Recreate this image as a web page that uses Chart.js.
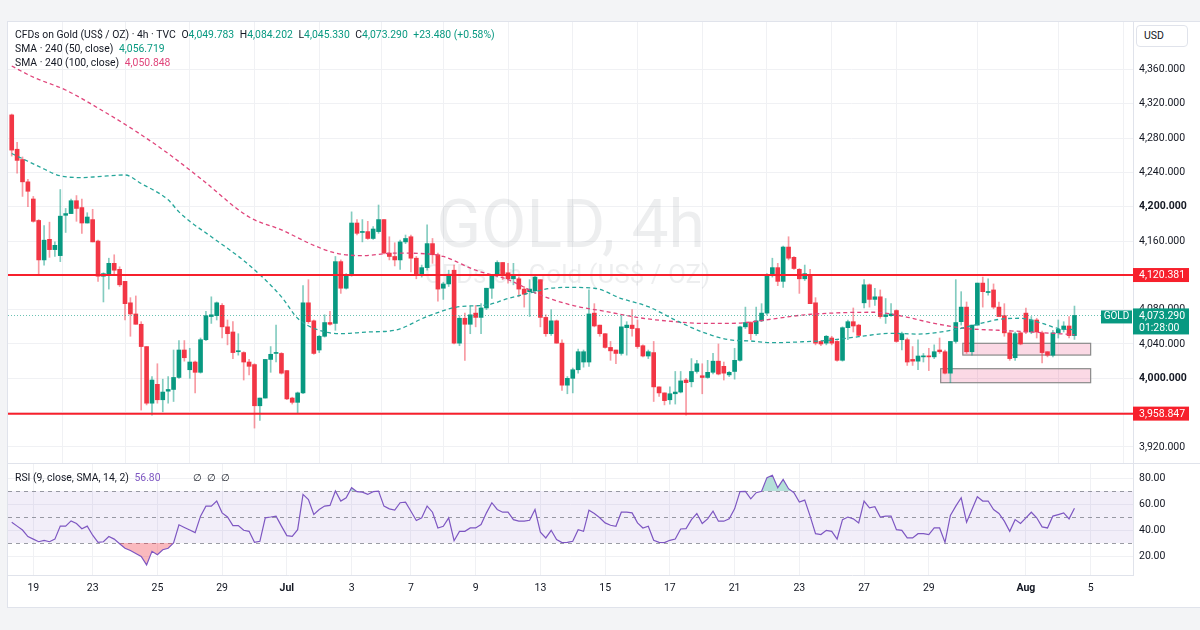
<!DOCTYPE html>
<html><head><meta charset="utf-8"><title>Gold 4h</title>
<script src="https://cdn.jsdelivr.net/npm/chart.js@4.4.1/dist/chart.umd.min.js"></script>
<style>
html,body{margin:0;padding:0;}
body{width:1200px;height:630px;background:#f3f4f6;position:relative;overflow:hidden;font-family:Roboto,"Noto Sans",sans-serif;color:#131722;}
#frame{position:absolute;left:7px;top:21px;width:1193px;height:585px;background:#fff;border-top:1px solid #e0e3eb;border-left:1px solid #e0e3eb;border-bottom:1px solid #e0e3eb;}
canvas{position:absolute;}
#cMain{left:8px;top:22px;width:1192px;height:441px;}
#cRsi{left:8px;top:464px;width:1192px;height:141px;}
#sep{position:absolute;left:8px;top:463px;width:1192px;height:1px;background:#e0e3eb;}
.t{position:absolute;font-size:10.4px;white-space:pre;line-height:14px;color:#131722;}
.g{color:#089981}.r{color:#e0457b}.p{color:#7e57c2}
.k{margin-left:3px}
#usd{position:absolute;left:1136px;top:25px;width:52px;height:22px;border:1px solid #e0e3eb;border-radius:4px;font-size:10.5px;line-height:20px;padding-left:7px;box-sizing:border-box;background:#fff;}
</style></head><body>
<div id="frame"></div>
<canvas id="cMain" width="1192" height="441"></canvas>
<div id="sep"></div>
<canvas id="cRsi" width="1192" height="141"></canvas>
<div class="t" id="lg1" style="left:15px;top:28px"></div>
<div class="t" id="lg2" style="left:15px;top:42px"></div>
<div class="t" id="lg3" style="left:15px;top:56px"></div>
<div class="t" id="lg4" style="left:15px;top:471px"></div>
<div class="t" style="left:193px;top:471px">∅  ∅  ∅</div>
<div id="usd">USD</div>
<script>
// ---------- DATA ----------
const opens = [
4307,4267,4255,4229,4209,4184,4138,4162,4150,4143,
4190,4192,4207,4199,4181,4185,4160,4119,4122,4134,
4127,4113,4088,4075,4063,4037,3971,3993,3975,3985,
3987,4001,4033,4010,4019,4007,4045,4072,4073,4085,
4060,4054,4031,4030,4019,4016,3968,3977,4022,4029,
4029,4009,3977,3972,3983,4088,4067,4033,4049,4065,
4064,4136,4105,4120,4181,4170,4171,4163,4171,4185,
4146,4142,4138,4159,4165,4140,4121,4129,4157,4144,
4105,4110,4126,4041,4070,4063,4076,4071,4082,4105,
4120,4135,4123,4116,4116,4104,4101,4102,4115,4071,
4052,4067,4041,3992,4000,4010,4019,4019,4076,4062,
4052,4036,4033,4029,4059,4062,4058,4038,4026,4030,
3990,3983,3975,3982,3984,3998,3996,4008,4003,4001,
4007,4020,4014,4004,4008,4021,4060,4065,4052,4067,
4076,4121,4129,4113,4153,4141,4127,4116,4121,4088,
4043,4041,4047,4043,4021,4059,4066,4062,4088,4109,
4092,4095,4072,4073,4079,4045,4045,4022,4020,4025,
4026,4025,4033,4031,4006,4043,4066,4083,4031,4062,
4111,4100,4103,4083,4073,4053,4024,4053,4076,4054,
4068,4053,4031,4027,4053,4057,4061,4049.783];
const highs = [
4308,4275,4258,4232,4212,4185,4178,4182,4159,4220,
4198,4209,4213,4209,4193,4197,4161,4123,4140,4144,
4130,4113,4094,4096,4066,4037,4002,4017,3999,4002,
4033,4044,4044,4035,4020,4047,4078,4095,4089,4087,
4068,4066,4052,4031,4022,4017,3977,4022,4037,4062,
4030,4009,3978,3984,4108,4115,4068,4050,4074,4078,
4142,4138,4122,4194,4185,4185,4183,4177,4202,4185,
4165,4158,4161,4167,4167,4142,4132,4179,4163,4146,
4112,4126,4132,4073,4076,4084,4085,4087,4105,4120,
4137,4135,4134,4134,4118,4107,4115,4120,4115,4074,
4080,4068,4045,4002,4012,4034,4033,4103,4087,4062,
4052,4043,4033,4073,4066,4080,4068,4039,4033,4043,
3990,3983,3990,4008,4008,4000,4023,4021,4017,4021,
4029,4040,4019,4008,4035,4061,4083,4066,4083,4087,
4122,4140,4134,4154,4165,4142,4128,4132,4127,4094,
4044,4050,4049,4044,4060,4068,4082,4063,4115,4110,
4105,4103,4093,4087,4080,4054,4047,4037,4045,4029,
4035,4039,4047,4033,4043,4115,4101,4089,4062,4111,
4118,4116,4110,4089,4087,4056,4054,4054,4082,4072,
4070,4055,4031,4056,4068,4066,4072,4084.202];
const lows = [
4259,4239,4212,4200,4182,4121,4132,4141,4142,4136,
4170,4192,4183,4169,4181,4159,4113,4089,4104,4122,
4107,4068,4049,4063,3963,3969,3957,3971,3961,3971,
3973,4000,4020,4000,3983,4006,4044,4064,4068,4047,
4039,4023,4027,3998,4004,3942,3951,3977,4007,4019,
4005,3975,3970,3959,3982,4064,4028,4030,4048,4062,
4056,4099,4104,4119,4167,4159,4162,4162,4169,4145,
4138,4131,4127,4157,4124,4116,4118,4126,4134,4090,
4092,4107,4040,4038,4021,4052,4060,4052,4080,4093,
4118,4115,4111,4109,4095,4083,4072,4099,4060,4049,
4050,4041,3986,3982,3983,4006,4013,4014,4060,4049,
4035,4021,4017,4027,4027,4049,4035,4025,4023,3973,
3979,3969,3970,3970,3983,3957,3990,4006,3982,4000,
4005,4004,3998,4002,3999,4020,4058,4045,4050,4066,
4074,4118,4108,4106,4138,4127,4099,4114,4087,4039,
4038,4039,4039,4020,4020,4045,4054,4049,4082,4083,
4085,4070,4064,4072,4042,4033,4015,4015,4010,4019,
4009,4023,4029,4005,3995,4041,4062,4029,4027,4062,
4083,4097,4081,4072,4049,4021,4021,4039,4052,4052,
4047,4018,4025,4025,4047,4054,4047,4045.330];
const closes = [
4266,4254,4229,4218,4183,4138,4161,4150,4155,4189,
4192,4207,4198,4181,4188,4159,4119,4122,4134,4126,
4109,4087,4075,4063,4037,3971,3998,3975,3984,3987,
4001,4033,4024,4019,4007,4045,4073,4074,4088,4060,
4052,4030,4032,4019,4014,3968,3977,4022,4028,4030,
4006,3976,3972,3983,4088,4066,4029,4049,4065,4063,
4136,4105,4120,4181,4169,4171,4163,4174,4185,4146,
4142,4138,4159,4163,4140,4122,4129,4157,4144,4104,
4110,4120,4041,4070,4063,4074,4071,4082,4105,4120,
4135,4122,4116,4120,4104,4098,4104,4118,4071,4052,
4067,4041,3992,4000,4010,4031,4031,4075,4061,4052,
4036,4032,4029,4060,4062,4058,4037,4026,4031,3990,
3983,3974,3982,3984,3997,3995,4008,4017,4001,4007,
4020,4005,4006,4007,4021,4060,4065,4052,4067,4076,
4121,4129,4113,4153,4140,4128,4116,4122,4087,4041,
4040,4049,4041,4021,4059,4066,4061,4050,4109,4092,
4095,4072,4074,4075,4043,4052,4019,4020,4026,4026,
4025,4031,4031,4006,4043,4065,4083,4031,4062,4111,
4101,4101,4083,4072,4053,4023,4052,4040,4054,4068,
4054,4030,4027,4053,4057,4061,4049.81,4073.290];

// SMA values read at selected candles (candle number -> value)
const sma50Idx = [1,3,6,10,14,17,22,25,30,32,34,38,45,51,54,58,62,67,72,78,84,89,93,98,101,104,109,114,119,124,129,134,138,142,148,153,158,164,169,176,180,184,188,192,195,198];
const sma50 = [4262,4256,4247,4236,4234,4235,4237,4227,4208,4194,4183,4165,4132,4095,4070,4056,4052,4054,4056,4072,4083.5,4085.4,4093,4101,4105,4106,4105,4093,4083.5,4068,4054,4045,4043.5,4041.5,4042.7,4044.6,4048.5,4052.4,4051.6,4057,4063,4068.7,4070,4064,4058,4056.719];
const sma100Idx = [1,5,11,17,24,30,36,45,51,57,61,66,72,78,81,87,93,99,105,111,118,124,129,134,137,143,148,155,161,166,172,178,184,190,198];
const sma100 = [4364,4351,4336,4315,4288,4262,4233,4188,4173,4155,4146,4143,4146,4145,4142,4126,4115,4097,4085,4078,4070,4066,4064,4064,4065,4070,4074,4076.5,4077,4072.6,4064,4058,4056,4054,4050.848];

const rsi = [
46,43,40,35,33,31,32,31,33,43,
43,47,45,41,43,36,30.5,31,35,33,
29.5,26,24.3,22,19.7,13.2,23.6,21,24.8,26,
30,44,42,40,38,50.7,58.4,58.4,62.3,53.2,
50,43.4,43.4,39.8,39,30.5,31.3,49.4,50,50.7,
43,35.7,35.2,40.3,67.4,63.5,52,55.8,58.4,58.9,
70,62.3,64.8,72.6,69.5,69.2,67.4,69.5,70,58.4,
56.3,55.3,61,61.5,54.5,47.3,49.4,58.4,53.7,41.6,
42.9,49.4,31.8,39,39,41.6,41.6,44.2,53.2,61,
55.8,53.7,53.7,48,46.8,46.8,47.5,55.8,38.3,33.9,
39.8,32.6,30.3,30.5,31.3,40.3,39,55.3,52.7,49.4,
45.5,43.7,42.9,53.7,53.7,53.2,45.5,41.6,42.9,32.1,
30.5,30.3,32.1,33.1,40.8,41.1,48,52.7,45,48.6,
54.5,46.8,46.8,48.6,56.3,69.5,69.8,64,68.7,69.8,
80.3,82.1,72.6,79,71.8,68.7,61.5,63,50.7,37.2,
36.5,39.8,39,33.1,48,50,48.6,45.5,62.3,57.1,
57.9,50,50.7,50.7,40.3,39.8,33.9,33.9,37.2,37.2,
36.5,41.6,41.6,30.5,51.2,58.4,64.8,46,55.8,65.6,
62.3,62.3,55.8,52.7,46.8,39,48,45,49.4,53.7,
49.4,42.4,41.6,50.7,51.9,53.2,48.6,56.80];

const levels = [4120.381, 3958.847];
const zoneStart = [177.3, 173.2];
const zoneEnd = [201, 201];
const zoneTop = [4040.8, 4011.2];
const zoneBottom = [4027.1, 3994.9];
const dateTicks = [5,16,28,40,52,64,75,87,99,111,123,135,147,159,171,189,201];
const dateLabels = ['19','23','25','29','Jul','3','7','9','13','15','17','21','23','27','29','Aug','5'];
const priceTicks = [3920,3960,4000,4040,4080,4120,4160,4200,4240,4280,4320,4360];
const rsiTicks = [20,40,60,80];
const rsiBands = [70,30];
const rsiLevels = [70,50,30];

// ---------- HELPERS ----------
const FONT = 'Roboto, "Noto Sans", sans-serif';
const FS = 10.5;
const fmt=(v,d)=>v.toLocaleString('en-US',{minimumFractionDigits:d,maximumFractionDigits:d});
const N = closes.length;
const idx = closes.map((_,i)=>i+1);
const UP='#089981', DN='#f23645';
const isUp = closes.map((c,i)=>c>=opens[i]);

// legend
const chg = closes[N-1]-closes[N-2], pct = chg/closes[N-2]*100;
document.getElementById('lg1').innerHTML =
 'CFDs on Gold (US$ / OZ) · 4h · TVC<span class="k"> </span>O<span class="g">'+fmt(opens[N-1],3)+'</span><span class="k"> </span>H<span class="g">'+fmt(highs[N-1],3)+
 '</span><span class="k"> </span>L<span class="g">'+fmt(lows[N-1],3)+'</span><span class="k"> </span>C<span class="g">'+fmt(closes[N-1],3)+'</span><span class="k"> </span><span class="g">'+
 (chg>=0?'+':'')+fmt(chg,3)+' ('+(pct>=0?'+':'')+pct.toFixed(2)+'%)</span>';
document.getElementById('lg2').innerHTML = 'SMA · 240 (50, close)<span class="k"> </span><span class="g">'+fmt(sma50[sma50.length-1],3)+'</span>';
document.getElementById('lg3').innerHTML = 'SMA · 240 (100, close)<span class="k"> </span><span class="r">'+fmt(sma100[sma100.length-1],3)+'</span>';
document.getElementById('lg4').innerHTML = 'RSI (9, close, SMA, 14, 2)<span class="k"> </span><span class="p">'+rsi[N-1].toFixed(2)+'</span>';

Chart.defaults.font.family = FONT;
Chart.defaults.font.size = FS;
Chart.defaults.color = '#131722';

const X_MIN = 0.31, X_MAX = 208.85;
function noPad(s){s.paddingTop=0;s.paddingBottom=0;s.paddingLeft=0;s.paddingRight=0;}
const gridColor = '#f0f1f4';

// ---------- MAIN PANE PLUGINS ----------
const backPlugin = {
  id:'back',
  beforeDatasetsDraw(chart){
    const {ctx, chartArea:a, scales:{x,y}} = chart;
    ctx.save();
    const cx=(a.left+a.right)/2, cy=(a.top+a.bottom)/2;
    ctx.fillStyle='rgba(19,23,34,0.075)';
    ctx.textAlign='center'; ctx.textBaseline='alphabetic';
    ctx.font='66px '+FONT;
    ctx.fillText('GOLD, 4h', cx, cy+4);
    ctx.font='26px '+FONT;
    ctx.fillText('CFDs on Gold (US$ / OZ)', cx-3, cy+40);
    for(let i=0;i<zoneStart.length;i++){
      const x0=x.getPixelForValue(zoneStart[i]), x1=x.getPixelForValue(zoneEnd[i]);
      const y0=y.getPixelForValue(zoneTop[i]), y1=y.getPixelForValue(zoneBottom[i]);
      ctx.fillStyle='rgba(233,30,99,0.17)';
      ctx.fillRect(x0,y0,x1-x0,y1-y0);
      ctx.strokeStyle='#8a8a8a'; ctx.lineWidth=1.2;
      ctx.strokeRect(x0,y0,x1-x0,y1-y0);
    }
    ctx.restore();
  }
};
const frontPlugin = {
  id:'front',
  afterDatasetsDraw(chart){
    const {ctx, chartArea:a, scales:{y}} = chart;
    ctx.save();
    const py=Math.round(y.getPixelForValue(closes[N-1]))+0.5;
    ctx.strokeStyle='rgba(8,153,129,0.6)'; ctx.lineWidth=1; ctx.setLineDash([1,2]);
    ctx.beginPath(); ctx.moveTo(a.left,py); ctx.lineTo(a.right,py); ctx.stroke();
    ctx.setLineDash([]);
    ctx.strokeStyle='#f7202c'; ctx.lineWidth=2;
    levels.forEach(v=>{
      const ly=y.getPixelForValue(v);
      ctx.beginPath(); ctx.moveTo(a.left,ly); ctx.lineTo(a.right,ly); ctx.stroke();
    });
    ctx.restore();
  },
  afterDraw(chart){
    const {ctx, chartArea:a, scales:{y}} = chart;
    ctx.save();
    ctx.font=FS+'px '+FONT; ctx.textBaseline='middle'; ctx.textAlign='left';
    levels.forEach(v=>{
      const ly=y.getPixelForValue(v);
      ctx.fillStyle='#f7202c';
      ctx.fillRect(a.right,ly-7,56,14);
      ctx.fillStyle='#fff';
      ctx.fillText(fmt(v,3), a.right+6, ly+0.5);
    });
    const py=y.getPixelForValue(closes[N-1]);
    ctx.fillStyle=UP;
    ctx.fillRect(a.right,py-7,56,26);
    ctx.fillRect(a.right-32,py-5,31,13);
    ctx.fillStyle='#fff';
    ctx.fillText(fmt(closes[N-1],3), a.right+6, py+1);
    ctx.fillText('01:28:00', a.right+6, py+13);
    ctx.font='10px '+FONT; ctx.textAlign='center';
    ctx.fillText('GOLD', a.right-16.5, py+1.5);
    ctx.restore();
  }
};

const xBase = () => ({
  type:'linear', min:X_MIN, max:X_MAX, offset:false,
  afterBuildTicks:s=>{s.ticks=dateTicks.map(v=>({value:v}));},
  grid:{color:gridColor, drawTicks:false}
});

new Chart(document.getElementById('cMain'), {
  type:'bar',
  data:{datasets:[
    {type:'bar', data: idx.map((x,i)=>({x, y:[lows[i],highs[i]]})),
     backgroundColor: isUp.map(u=>u?'rgba(8,153,129,0.5)':'rgba(242,54,69,0.5)'),
     barThickness:1, grouped:false, order:3},
    {type:'bar', data: idx.map((x,i)=>({x, y:[opens[i],closes[i]]})),
     backgroundColor: isUp.map(u=>u?UP:DN), barThickness:4, grouped:false, minBarLength:1, order:2},
    {type:'line', data: sma50Idx.map((x,i)=>({x, y:sma50[i]})), borderColor:'#26a69a', borderWidth:1.3,
     borderDash:[4,3], pointRadius:0, cubicInterpolationMode:'monotone', fill:false, order:1},
    {type:'line', data: sma100Idx.map((x,i)=>({x, y:sma100[i]})), borderColor:'#e0457b', borderWidth:1.3,
     borderDash:[4,3], pointRadius:0, cubicInterpolationMode:'monotone', fill:false, order:1}
  ]},
  options:{
    responsive:false, animation:false, events:[],
    layout:{padding:0},
    plugins:{legend:{display:false}, tooltip:{enabled:false}},
    scales:{
      x:{...xBase(), ticks:{display:false}, border:{display:false}, afterFit:s=>{s.height=0;noPad(s);}},
      y:{position:'right', min:3901.3, max:4415.3,
         afterBuildTicks:s=>{s.ticks=priceTicks.map(v=>({value:v}));},
         ticks:{padding:6, callback:v=>fmt(v,3), color:'#131722',
                font:c=>({family:FONT,size:FS,weight:(c.tick&&c.tick.value%200===0)?'bold':'normal'})},
         grid:{color:gridColor, drawTicks:false},
         border:{display:true, color:'#e0e3eb'},
         afterFit:s=>{s.width=67;noPad(s);}}
    }
  },
  plugins:[backPlugin, frontPlugin]
});

// ---------- RSI PANE ----------
const rsiBack = {
  id:'rsiBack',
  beforeDatasetsDraw(chart){
    const {ctx, chartArea:a, scales:{y}} = chart;
    ctx.save();
    const t=y.getPixelForValue(rsiBands[0]), b=y.getPixelForValue(rsiBands[1]);
    ctx.fillStyle='rgba(126,87,194,0.1)';
    ctx.fillRect(a.left,t,a.right-a.left,b-t);
    ctx.strokeStyle='rgba(120,123,134,0.75)'; ctx.lineWidth=1; ctx.setLineDash([4,4]);
    rsiLevels.forEach(v=>{
      const ly=Math.round(y.getPixelForValue(v))+0.5;
      ctx.beginPath(); ctx.moveTo(a.left,ly); ctx.lineTo(a.right,ly); ctx.stroke();
    });
    ctx.restore();
  }
};
const rsiPts = idx.map((x,i)=>({x, y:rsi[i]}));
new Chart(document.getElementById('cRsi'), {
  type:'line',
  data:{datasets:[
    {data:rsiPts, borderColor:'#7e57c2', borderWidth:1.2, pointRadius:0, tension:0,
     fill:{target:{value:30}, above:'rgba(0,0,0,0)', below:'rgba(242,54,69,0.35)'}},
    {data:rsiPts, borderColor:'rgba(0,0,0,0)', borderWidth:0, pointRadius:0, tension:0,
     fill:{target:{value:70}, above:'rgba(8,153,129,0.3)', below:'rgba(0,0,0,0)'}}
  ]},
  options:{
    responsive:false, animation:false, events:[],
    layout:{padding:0},
    plugins:{legend:{display:false}, tooltip:{enabled:false}},
    scales:{
      x:{...xBase(),
         ticks:{padding:7, autoSkip:false, maxRotation:0, color:'#131722',
                callback:v=>{const k=dateTicks.indexOf(v);return k>=0?dateLabels[k]:'';},
                font:c=>{const k=c.tick?dateTicks.indexOf(c.tick.value):-1;const lb=k>=0?dateLabels[k]:'';
                         return {family:FONT,size:FS,weight:(lb==='Jul'||lb==='Aug')?'bold':'normal'};}},
         border:{display:true, color:'#e0e3eb'},
         afterFit:s=>{s.height=30;noPad(s);}},
      y:{position:'right', min:5.4, max:90.8,
         afterBuildTicks:s=>{s.ticks=rsiTicks.map(v=>({value:v}));},
         ticks:{padding:6, callback:v=>v.toFixed(2), color:'#131722'},
         grid:{color:gridColor, drawTicks:false},
         border:{display:true, color:'#e0e3eb'},
         afterFit:s=>{s.width=67;noPad(s);}}
    }
  },
  plugins:[rsiBack]
});
</script>
</body></html>
